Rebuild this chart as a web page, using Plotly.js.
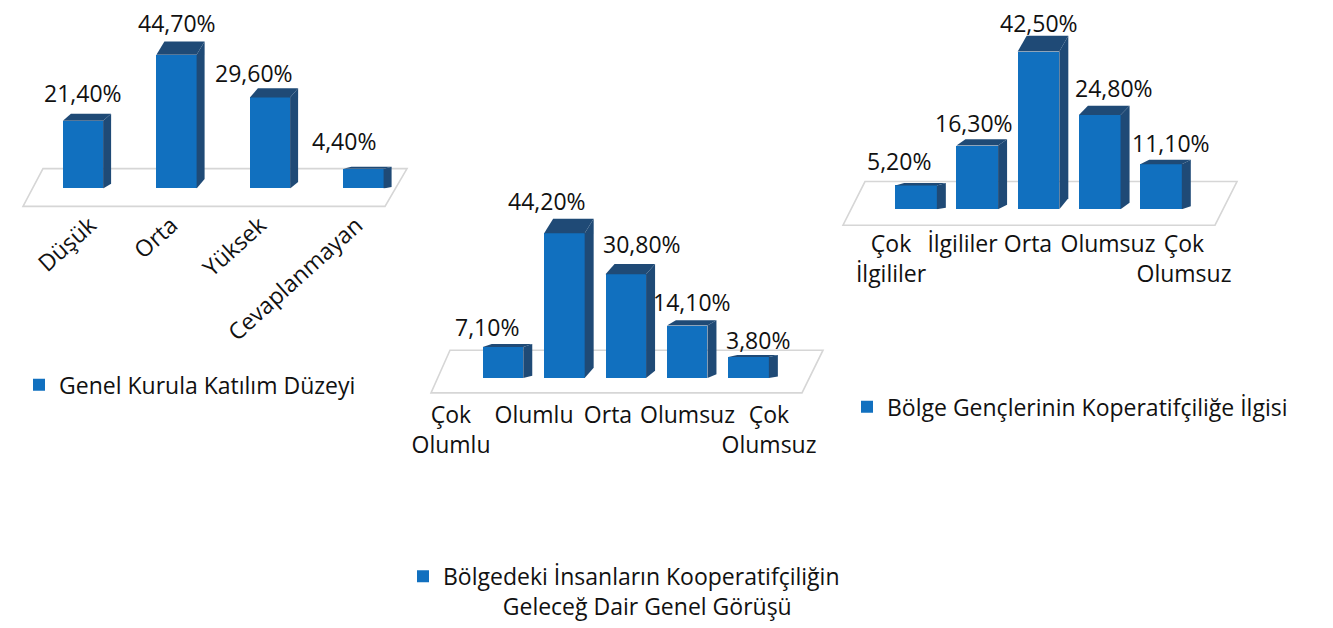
<!DOCTYPE html>
<html>
<head>
<meta charset="utf-8">
<script src="https://cdn.plot.ly/plotly-3.0.1.min.js"></script>
<style>html,body{margin:0;padding:0;background:#fff;}</style>
</head>
<body>
<div id="chart" style="width:1333px;height:628px;"></div>
<script>
// ---------- DATA ----------
const cats1 = ["Düşük", "Orta", "Yüksek", "Cevaplanmayan"];
const vals1 = [21.4, 44.7, 29.6, 4.4];
const name1 = "Genel Kurula Katılım Düzeyi";

const cats2 = ["Çok Olumlu", "Olumlu", "Orta", "Olumsuz", "Çok Olumsuz"];
const ticks2 = ["Çok<br>Olumlu", "Olumlu", "Orta", "Olumsuz", "Çok<br>Olumsuz"];
const vals2 = [7.1, 44.2, 30.8, 14.1, 3.8];
const name2 = "Bölgedeki İnsanların Kooperatifçiliğin<br>          Geleceğ Dair Genel Görüşü";

const cats3 = ["Çok İlgililer", "İlgililer", "Orta", "Olumsuz", "Çok Olumsuz"];
const ticks3 = ["Çok<br>İlgililer", "İlgililer", "Orta", "Olumsuz", "Çok<br>Olumsuz"];
const vals3 = [5.2, 16.3, 42.5, 24.8, 11.1];
const name3 = "Bölge Gençlerinin Koperatifçiliğe İlgisi";

// ---------- STYLE ----------
const W = 1333, H = 628;
const FONT = "Open Sans, Noto Sans, sans-serif";
const FS = 23;
const FRONT = "#1170bf", TOP = "#1f4a76", SIDE = "#1f4a76";
const TXT = "#111";
const px = p => p / W, py = p => 1 - p / H;

// per-chart geometry (pixels) and label nudges (category units / pixels)
const G = [
  {cats: cats1, vals: vals1, xl: 36.25, xr: 410.25, base: 190, slope: 2.85, off: 2.6, top: 55, width: 0.43, dxPx: 8,
   ldx: [0, 0, -16, -20], ldy: [28, 32, 24, 28], tickNudge: [0.075, -0.053, -0.107, -0.075],
   floor: [[43,170],[407,170],[385,208],[23,208]]},
  {cats: cats2, vals: vals2, xl: 472.3, xr: 779.3, base: 381, slope: 3.09, off: 3.0, top: 55, width: 0.66, dxPx: 9,
   ldx: [-16, -17, 16, 5, 9], ldy: [20, 32, 30, 24, 17],
   floor: [[450,353],[823,353],[802,396],[431,396]]},
  {cats: cats3, vals: vals3, xl: 885.4, xr: 1191.6, base: 211, slope: 3.62, off: 1.44, top: 50, width: 0.68, dxPx: 9,
   ldx: [-17, -3, 0, 14, 10], ldy: [24, 23, 29, 27, 21],
   floor: [[865,183],[1237,183],[1215,227],[843,227]]}
];

const fmt = v => v.toFixed(2).replace('.', ',') + '%';

const traces = [];
const shapes = [];
const annotations = [];
const layout = {
  width: W, height: H,
  margin: {l: 0, r: 0, t: 0, b: 0},
  paper_bgcolor: "#fff", plot_bgcolor: "rgba(0,0,0,0)",
  font: {family: FONT, size: FS, color: TXT},
  showlegend: true,
  bargap: 0
};

const names = [name1, name2, name3];
G.forEach((g, k) => {
  const n = k + 1;
  const xa = n === 1 ? 'x' : 'x' + n, ya = n === 1 ? 'y' : 'y' + n;
  const xKey = n === 1 ? 'xaxis' : 'xaxis' + n, yKey = n === 1 ? 'yaxis' : 'yaxis' + n;
  const idx = g.cats.map((_, i) => i);
  const N = g.cats.length;
  const yBottomPx = g.base;
  const yTopPx = g.base - (g.top + g.off) * g.slope;

  traces.push({
    type: 'bar', x: idx, y: g.vals.map(v => v + g.off), base: g.vals.map(() => -g.off),
    xaxis: xa, yaxis: ya, width: g.width, name: names[k],
    marker: {color: FRONT, line: {width: 0}},
    legend: n === 1 ? 'legend' : 'legend' + n,
    hoverinfo: 'skip'
  });

  layout[xKey] = {
    domain: [px(g.xl), px(g.xr)], range: [-0.5, N - 0.5], anchor: ya,
    showgrid: false, zeroline: false, showline: false, ticks: '',
    tickvals: idx.map(i => i + (g.tickNudge ? g.tickNudge[i] : 0)), ticktext: g.cats, showticklabels: n === 1,
    tickangle: -42, ticklabelstandoff: 18,
    tickfont: {family: FONT, size: FS, color: TXT}, fixedrange: true
  };
  layout[yKey] = {
    domain: [py(yBottomPx), py(yTopPx)], range: [-g.off, g.top], anchor: xa,
    visible: false, fixedrange: true
  };

  // floor
  shapes.push({
    type: 'path', xref: 'paper', yref: 'paper', layer: 'below',
    path: 'M' + g.floor.map(p => px(p[0]) + ',' + py(p[1])).join('L') + 'Z',
    line: {color: '#d6d6d6', width: 1.6}, fillcolor: 'rgba(0,0,0,0)'
  });

  const spacing = (g.xr - g.xl) / N;
  const dx = g.dxPx / spacing;
  const hw = g.width / 2;
  g.vals.forEach((v, i) => {
    const Hh = v + g.off;
    const bt = v + 0.1 * Hh;          // back top
    const bb = -g.off + 0.07 * Hh;    // back bottom
    shapes.push({
      type: 'path', xref: xa, yref: ya, layer: 'above',
      path: `M${i-hw},${v}L${i+hw},${v}L${i+hw+dx},${bt}L${i-hw+dx},${bt}Z`,
      fillcolor: TOP, line: {width: 0}
    });
    shapes.push({
      type: 'path', xref: xa, yref: ya, layer: 'above',
      path: `M${i+hw},${v}L${i+hw+dx},${bt}L${i+hw+dx},${bb}L${i+hw},${-g.off}Z`,
      fillcolor: SIDE, line: {width: 0}
    });
    annotations.push({
      xref: xa, yref: ya, x: i, y: v, text: fmt(v), showarrow: false,
      xanchor: 'center', yanchor: 'middle', xshift: g.ldx[i], yshift: g.ldy[i],
      font: {family: FONT, size: FS, color: TXT}
    });
  });
});

// label axes for charts 2 and 3 (labels spread along the floor's front edge)
const labelAxis = (dom, anchor, cats, text, nudge, standoff) => ({
  domain: dom, range: [-0.5, cats.length - 0.5], anchor: anchor,
  showgrid: false, zeroline: false, showline: false, ticks: '',
  tickvals: cats.map((_, i) => i + nudge[i]), ticktext: text, tickangle: 0, ticklabelstandoff: standoff,
  tickfont: {family: FONT, size: FS, color: TXT}, fixedrange: true
});
layout.xaxis4 = labelAxis([px(411.25), px(808.75)], 'y2', cats2, ticks2, [0, 0.044, -0.025, -0.025, 0], 21);
layout.xaxis5 = labelAxis([px(854.4), px(1220.6)], 'y3', cats3, ticks3, [0, -0.024, -0.13, -0.038, 0], 19);
// invisible carriers so the label axes are drawn
traces.push({type: 'scatter', mode: 'markers', x: cats2.map((_, i) => i), y: vals2, xaxis: 'x4', yaxis: 'y2',
  marker: {opacity: 0}, showlegend: false, hoverinfo: 'skip'});
traces.push({type: 'scatter', mode: 'markers', x: cats3.map((_, i) => i), y: vals3, xaxis: 'x5', yaxis: 'y3',
  marker: {opacity: 0}, showlegend: false, hoverinfo: 'skip'});

const legendBase = {bgcolor: 'rgba(0,0,0,0)', borderwidth: 0, font: {family: FONT, size: FS, color: TXT},
  xanchor: 'left', yanchor: 'middle', itemclick: false, itemdoubleclick: false};
layout.legend = Object.assign({}, legendBase, {x: px(19), y: py(388)});
layout.legend2 = Object.assign({}, legendBase, {x: px(403), y: py(596), valign: 'top'});
layout.legend3 = Object.assign({}, legendBase, {x: px(847), y: py(410)});

layout.shapes = shapes;
layout.annotations = annotations;

Plotly.newPlot('chart', traces, layout, {displayModeBar: false, staticPlot: true});
</script>
</body>
</html>
